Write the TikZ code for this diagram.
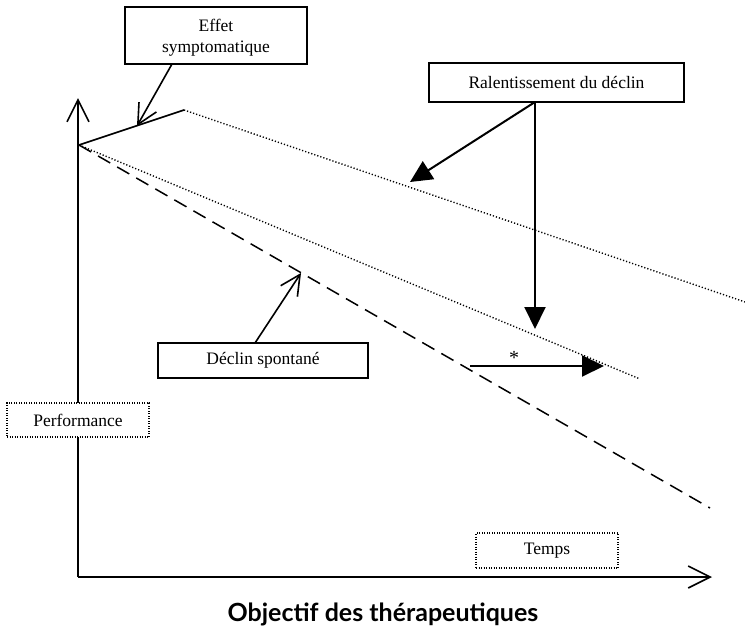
\documentclass[tikz,border=0pt]{standalone}
\usepackage{fontspec}
\setmainfont{Liberation Serif}
\newfontfamily\titlefont{Lato}
\usetikzlibrary{arrows.meta}
\begin{document}
\begin{tikzpicture}[x=1pt,y=-1pt,
  solidbox/.style={draw,line width=1.3pt,fill=white,inner sep=0pt,font=\fontsize{17.5}{21}\selectfont},
  dotbox/.style={draw,dash pattern=on 1pt off 1.5pt,line width=1.2pt,fill=white,inner sep=0pt,font=\fontsize{17.5}{21}\selectfont},
  dotline/.style={dash pattern=on 1.2pt off 2pt,line width=1.4pt},
  dashline/.style={dash pattern=on 14pt off 8pt,line width=1.5pt},
  axis/.style={line width=2pt,-{Straight Barb[length=22pt,width=22pt,line width=1.6pt]}},
  openarrow/.style={line width=1.6pt,-{Straight Barb[length=20pt,width=20pt]}},
  fillarrow/.style={line width=2pt,-{Triangle[length=22pt,width=21pt]}}]
\useasboundingbox (0,0) rectangle (745,632);
% key points
\coordinate (O) at (78,577);
\coordinate (ytop) at (78,98);
\coordinate (xend) at (712,577);
\coordinate (start) at (79,145);
\coordinate (sym) at (184,110);
\coordinate (upend) at (745,302);
\coordinate (lowend) at (640,379);
\coordinate (dashend) at (710,508);
% curves
\draw[line width=1.6pt] (start) -- (sym);
\draw[dotline] (sym) -- (upend);
\draw[dotline] (start) -- (lowend);
\draw[dashline] (start) -- (dashend);
% axes
\draw[axis] (O) -- (ytop);
\draw[axis] (O) -- (xend);
% boxes
\node[solidbox,minimum width=182pt,minimum height=57pt] (eff) at (216,35.5) {};
\node[font=\fontsize{17.5}{21}\selectfont,align=center,inner sep=0pt] (efftxt) at (216,38) {Effet\\symptomatique};
\node[solidbox,minimum width=255pt,minimum height=39pt] (ral) at (556.5,82.5) {Ralentissement du déclin};
\node[solidbox,minimum width=210pt,minimum height=35pt] (dec) at (263,360.5) {Déclin spontané};
\node[dotbox,minimum width=142pt,minimum height=34pt] (perf) at (78,420) {Performance};
\node[dotbox,minimum width=142pt,minimum height=35pt] (temps) at (547,550.5) {Temps};
% connectors
\coordinate (effT) at (137,126);
\coordinate (ralS) at (535,102);
\coordinate (ralT1) at (410,182);
\coordinate (ralT2) at (535,329);
\coordinate (decT) at (301,273);
\coordinate (starS) at (470,366);
\coordinate (starT) at (604,366);
\draw[openarrow] (172,64) -- (effT);
\draw[fillarrow] (ralS) -- (ralT1);
\draw[fillarrow] (ralS) -- (ralT2);
\draw[openarrow] (255,343) -- (decT);
\draw[fillarrow] (starS) -- (starT);
\node[font=\fontsize{20}{24}\selectfont] (star) at (514,358) {*};
% title
\node[font=\titlefont\bfseries\fontsize{25}{30}\selectfont] (title) at (383,614) {Objectif des thérapeutiques};
\end{tikzpicture}
\end{document}
